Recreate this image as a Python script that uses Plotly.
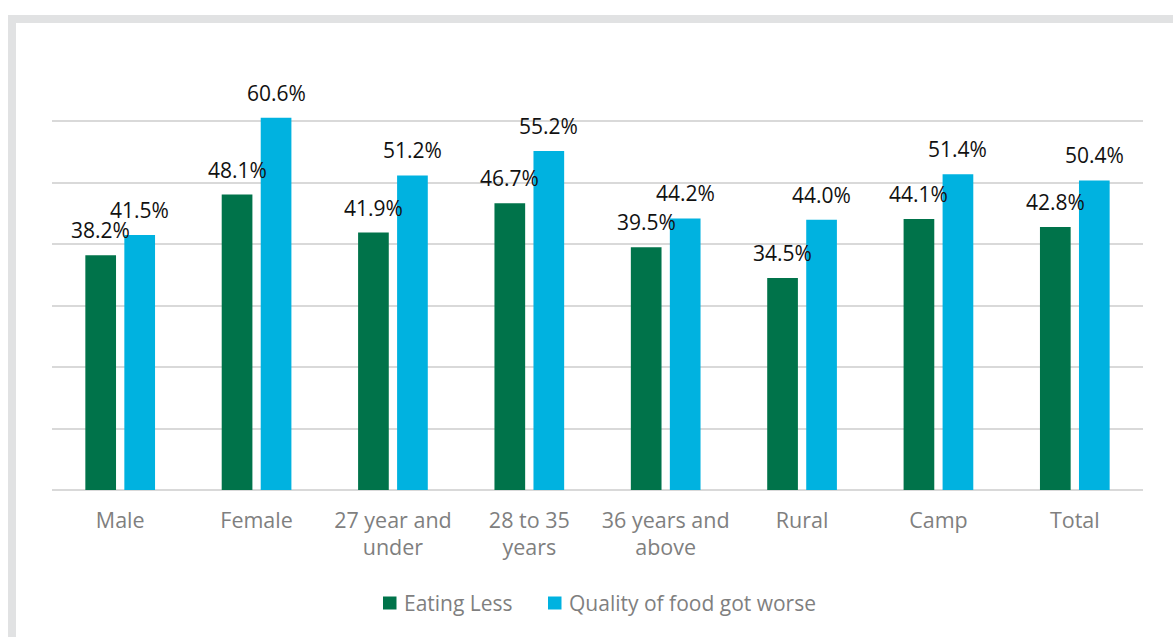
import plotly.graph_objects as go

# Survey breakdown: share reporting each food-related change
categories = ["Male", "Female", "27 year and<br>under", "28 to 35<br>years",
              "36 years and<br>above", "Rural", "Camp", "Total"]
eating_less = [38.2, 48.1, 41.9, 46.7, 39.5, 34.5, 44.1, 42.8]
quality_worse = [41.5, 60.6, 51.2, 55.2, 44.2, 44.0, 51.4, 50.4]
series_names = ["Eating Less", "Quality of food got worse"]

GREEN = "#00734A"
BLUE = "#00B2E0"
COLORS = [GREEN, BLUE]
FONT = "Open Sans"

W, H = 1173, 637
L, R, T, B = 52, 30, 60, 147
PW, PH = W - L - R, H - T - B


def px_x(px):
    return (px - L) / PW


def px_y(py):
    return (H - B - py) / PH


fig = go.Figure()
for name, vals, col in zip(series_names, (eating_less, quality_worse), COLORS):
    fig.add_trace(go.Bar(x=categories, y=vals, name=name,
                         marker=dict(color=col, line=dict(width=0))))

# value labels sit a little above each bar
annotations = []
for vals, shift in ((eating_less, -19.5), (quality_worse, 19.5)):
    for cat, v in zip(categories, vals):
        annotations.append(dict(
            x=cat, y=v, xref="x", yref="y", text=f"{v:.1f}%",
            showarrow=False, xanchor="center", yanchor="middle",
            xshift=shift, yshift=25,
            font=dict(family=FONT, size=21, color="#111111")))

# light grey frame along the top and left edges
shapes = [
    dict(type="rect", xref="paper", yref="paper",
         x0=px_x(8), x1=px_x(W + 5), y0=px_y(23), y1=px_y(15),
         fillcolor="#E1E2E3", line=dict(width=0), layer="below"),
    dict(type="rect", xref="paper", yref="paper",
         x0=px_x(8), x1=px_x(16), y0=px_y(H + 5), y1=px_y(15),
         fillcolor="#E1E2E3", line=dict(width=0), layer="below"),
]

# legend drawn below the category labels: colour swatch followed by the name
legend_y = 603
for name, col, sx in zip(series_names, COLORS, (383, 548)):
    shapes.append(dict(type="rect", xref="paper", yref="paper",
                       x0=px_x(sx), x1=px_x(sx + 13.5),
                       y0=px_y(legend_y + 6.5), y1=px_y(legend_y - 6.5),
                       fillcolor=col, line=dict(width=0)))
    annotations.append(dict(x=px_x(sx + 19), y=px_y(legend_y), xref="paper",
                            yref="paper", text=name, showarrow=False,
                            xanchor="left", yanchor="middle",
                            font=dict(family=FONT, size=21, color="#7F7F7F")))

fig.update_layout(
    width=W, height=H,
    margin=dict(l=L, r=R, t=T, b=B, pad=0),
    paper_bgcolor="white", plot_bgcolor="white",
    barmode="group", bargap=0.428, bargroupgap=0.213,
    font=dict(family=FONT, size=20, color="#7F7F7F"),
    showlegend=False,
    annotations=annotations,
    shapes=shapes,
    xaxis=dict(showline=False, ticks="", showgrid=False,
               tickfont=dict(family=FONT, size=21.5, color="#7F7F7F"),
               ticklabelstandoff=15, fixedrange=True),
    yaxis=dict(range=[0, 70], dtick=10, showticklabels=False, showgrid=True,
               gridcolor="#D9D9D9", gridwidth=1.5, zeroline=True,
               zerolinecolor="#D9D9D9", zerolinewidth=2, fixedrange=True),
)

fig.write_html("out.html", config={"displayModeBar": False})
